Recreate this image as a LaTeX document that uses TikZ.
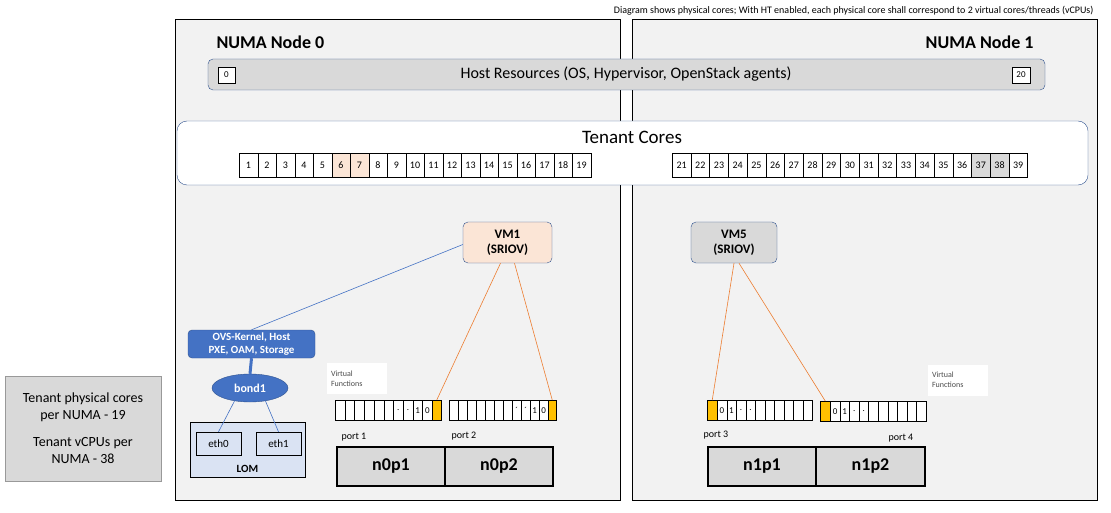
\documentclass[tikz,border=0pt]{standalone}
\usepackage{fontspec}
\setmainfont{Carlito}
\usetikzlibrary{shapes.geometric}
\definecolor{numa}{HTML}{F2F2F2}
\definecolor{gr}{HTML}{D9D9D9}
\definecolor{bl}{HTML}{4472C4}
\definecolor{bd}{HTML}{2F528F}
\definecolor{peach}{HTML}{FBE5D6}
\definecolor{yel}{HTML}{FFC000}
\definecolor{org}{HTML}{ED7D31}
\definecolor{lom}{HTML}{DAE3F3}
\tikzset{
 numabox/.style={draw=black,fill=numa,line width=1pt},
 cell/.style={draw=black,line width=0.5pt,fill=white},
 vm/.style={draw=bd,rounded corners=5pt,align=center,font=\fontsize{13}{15}\selectfont\bfseries},
 nic/.style={draw=black,line width=1.5pt,fill=gr,font=\fontsize{18}{20}\selectfont\bfseries},
 vfl/.style={fill=white,align=left,font=\fontsize{8}{10}\selectfont,text=black!70},
 bluel/.style={draw=bl,line width=0.6pt},
 orgl/.style={draw=org,line width=0.6pt},
 lbl/.style={font=\fontsize{10}{12}\selectfont}
}
\begin{document}
\begin{tikzpicture}[x=1pt,y=-1pt]
\useasboundingbox[fill=white] (0,0) rectangle (1111,513);
% NUMA boxes
\draw[numabox] (175,20) rectangle (620,500);
\draw[numabox] (632,20) rectangle (1097,500);
\node[anchor=east,font=\fontsize{10}{12}\selectfont] (note) at (1097,11) {Diagram shows physical cores; With HT enabled, each physical core shall correspond to 2 virtual cores/threads (vCPUs)};
\node[anchor=west,font=\fontsize{18}{20}\selectfont\bfseries] (n0) at (213,42) {NUMA Node 0};
\node[anchor=east,font=\fontsize{18}{20}\selectfont\bfseries] (n1) at (1037,42) {NUMA Node 1};
% host resources
\draw[draw=bd,fill=gr,rounded corners=5pt] (208,59) rectangle (1045,90);
\node[font=\fontsize{16}{18}\selectfont] (host) at (626,74) {Host Resources (OS, Hypervisor, OpenStack agents)};
\node[cell,minimum width=17,minimum height=16,inner sep=0,font=\fontsize{9}{10}\selectfont] (c0) at (226.5,75) {0};
\node[cell,minimum width=18,minimum height=16,inner sep=0,font=\fontsize{9}{10}\selectfont] (c20) at (1021,75) {20};
% tenant cores
\draw[draw=bd,fill=white,rounded corners=10pt] (177,121) rectangle (1088,185);
\node[font=\fontsize{19}{21}\selectfont] (tc) at (632,137) {Tenant Cores};
\foreach \i in {1,...,19}{
  \pgfmathsetmacro{\x}{239+(\i-1)*18.5}
  \ifnum\i=6 \def\fc{peach}\else\ifnum\i=7 \def\fc{peach}\else\def\fc{white}\fi\fi
  \node[cell,fill=\fc,anchor=north west,minimum width=18.5,minimum height=24,inner sep=0,font=\fontsize{10}{12}\selectfont] (k\i) at (\x,153) {\i};
}
\foreach \i in {21,...,39}{
  \pgfmathsetmacro{\x}{672+(\i-21)*18.7}
  \ifnum\i=37 \def\fc{gr}\else\ifnum\i=38 \def\fc{gr}\else\def\fc{white}\fi\fi
  \node[cell,fill=\fc,anchor=north west,minimum width=18.7,minimum height=24,inner sep=0,font=\fontsize{10}{12}\selectfont] (k\i) at (\x,153) {\i};
}
% VMs
\node[vm,fill=peach,minimum width=89,minimum height=41] (vm1) at (507.5,242.5) {VM1\\(SRIOV)};
\node[vm,fill=gr,minimum width=86,minimum height=41] (vm5) at (734,242.5) {VM5\\(SRIOV)};
% OVS, bond, LOM
\node[draw=bd,fill=bl,text=white,rounded corners=4pt,minimum width=127,minimum height=28,inner sep=1,align=center,font=\fontsize{11}{13}\selectfont\bfseries] (ovs) at (251.5,344) {OVS-Kernel, Host\\PXE, OAM, Storage};
\node[ellipse,draw=bd,fill=bl,text=white,minimum width=76,minimum height=28,inner sep=0,font=\fontsize{12}{14}\selectfont\bfseries] (bond) at (250,388) {bond1};
\node[draw=black,fill=lom,minimum width=115,minimum height=55,inner sep=0] (lom) at (247.5,449.5) {};
\node[lbl,font=\fontsize{11}{13}\selectfont\bfseries] (lomt) at (247.5,469) {LOM};
\node[draw=black,fill=lom,minimum width=45,minimum height=23,inner sep=0,font=\fontsize{11}{13}\selectfont] (eth0) at (218.5,443.5) {eth0};
\node[draw=black,fill=lom,minimum width=45,minimum height=23,inner sep=0,font=\fontsize{11}{13}\selectfont] (eth1) at (278.5,443.5) {eth1};
\draw[bluel] (vm1.west) ++(0,2) coordinate (vma) -- (ovs.north);
\draw[draw=bl,line width=3pt] (ovs.south) -- (bond.north);
\draw[bluel] (bond.220) -- (eth0.north);
\draw[bluel] (bond.320) -- (eth1.north);
% VF labels
\node[vfl,minimum width=60,minimum height=31,text width=52] (vf0) at (357,378.5) {Virtual\\Functions};
\node[vfl,minimum width=60,minimum height=31,text width=52] (vf1) at (958,380) {Virtual\\Functions};
% VF strips
\def\vfstrip#1#2#3#4#5{% name, x, y, yellowfirst(1/0), labels list
}
% left strip 1
\foreach \j/\t in {0/,1/,2/,3/,4/,5/,6/.,7/.,8/1,9/0}{
  \node[cell,anchor=north west,minimum width=9.7,minimum height=20,inner sep=0,font=\fontsize{9}{10}\selectfont] (a\j) at (335+\j*9.7,400) {\t};}
\node[cell,fill=yel,anchor=north west,minimum width=9,minimum height=20,inner sep=0] (ay) at (432,400) {};
\foreach \j/\t in {0/,1/,2/,3/,4/,5/,6/,7/\textasciiacute,8/\textasciiacute,9/1,10/0}{
  \node[cell,anchor=north west,minimum width=9,minimum height=20,inner sep=0,font=\fontsize{9}{10}\selectfont] (b\j) at (449+\j*9,400) {\t};}
\node[cell,fill=yel,anchor=north west,minimum width=8,minimum height=20,inner sep=0] (by) at (548,400) {};
\node[cell,fill=yel,anchor=north west,minimum width=10,minimum height=20,inner sep=0] (cy) at (707,400) {};
\foreach \j/\t in {0/0,1/1,2/.,3/.,4/,5/,6/,7/,8/,9/}{
  \node[cell,anchor=north west,minimum width=9.5,minimum height=20,inner sep=0,font=\fontsize{9}{10}\selectfont] (c\j) at (717+\j*9.5,400) {\t};}
\node[cell,fill=yel,anchor=north west,minimum width=10,minimum height=20,inner sep=0] (dy) at (820,401) {};
\foreach \j/\t in {0/0,1/1,2/.,3/.,4/,5/,6/,7/,8/,9/}{
  \node[cell,anchor=north west,minimum width=9.6,minimum height=20,inner sep=0,font=\fontsize{9}{10}\selectfont] (d\j) at (830+\j*9.6,401) {\t};}
% orange lines
\draw[orgl] (vm1.south) ++(-7,0) coordinate (o1) -- (ay.north);
\draw[orgl] (vm1.south) ++(7,0) coordinate (o2) -- (by.north);
\draw[orgl] (vm5.south) coordinate (o3) -- (cy.north);
\draw[orgl] (vm5.south) ++(5,0) coordinate (o4) -- (dy.north);
% ports
\node[lbl,anchor=west] (p1) at (338,437) {port 1};
\node[lbl,anchor=west] (p2) at (448,436) {port 2};
\node[lbl,anchor=west] (p3) at (700,435) {port 3};
\node[lbl,anchor=west] (p4) at (885,438) {port 4};
\node[nic,minimum width=108,minimum height=39,inner sep=0] (n0p1) at (391,466.5) {n0p1};
\node[nic,minimum width=108,minimum height=39,inner sep=0] (n0p2) at (499,466.5) {n0p2};
\node[nic,minimum width=108,minimum height=39,inner sep=0] (n1p1) at (762,466.5) {n1p1};
\node[nic,minimum width=109,minimum height=39,inner sep=0] (n1p2) at (870.5,466.5) {n1p2};
% left info
\node[draw=black!40,fill=gr,minimum width=156,minimum height=105,align=center,font=\fontsize{14}{17}\selectfont] (info) at (83,428.5) {Tenant physical cores\\per NUMA - 19\\[10pt]Tenant vCPUs per\\NUMA - 38};
\end{tikzpicture}
\end{document}
